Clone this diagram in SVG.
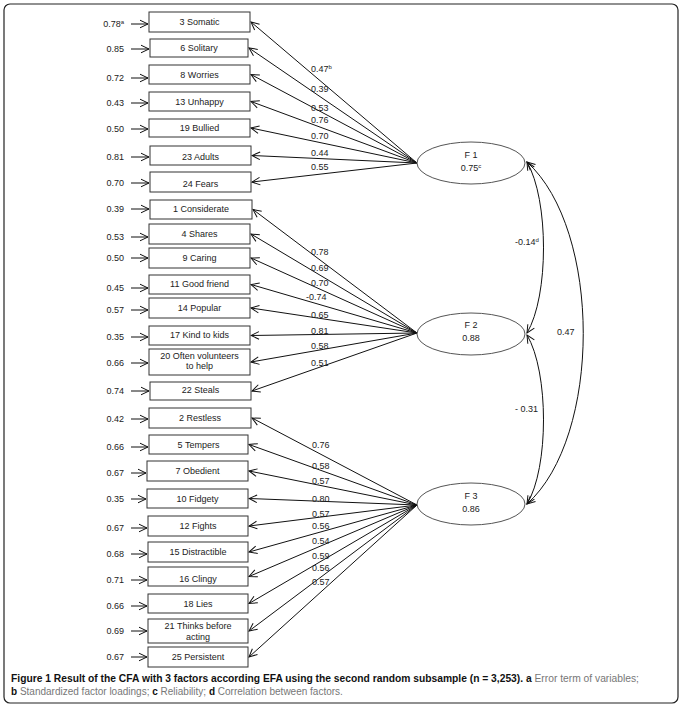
<svg xmlns="http://www.w3.org/2000/svg" width="684" height="709" viewBox="0 0 684 709">
<style>
text{font-family:"Liberation Sans",Arial,sans-serif;font-size:9px;fill:#222}
.box{fill:#fff;stroke:#333;stroke-width:1}
.fac{fill:#fff;stroke:#555;stroke-width:1}
.bt{text-anchor:middle}
.el{text-anchor:end}
.ln{stroke:#111;stroke-width:1;fill:none}
.cap{font-size:10px}
.b{font-weight:bold;fill:#111}
.g{fill:#777}
</style>
<defs>
<marker id="ah" markerWidth="10" markerHeight="10" refX="9" refY="5" orient="auto-start-reverse" markerUnits="userSpaceOnUse">
<path d="M1,1.2 L9,5 L1,8.8" fill="none" stroke="#111" stroke-width="1"/>
</marker>
</defs>
<rect x="4" y="4" width="674" height="699" rx="6" fill="#fff" stroke="#222" stroke-width="1.2"/>

<g id="connectors">
<g id="loadings-f1" class="ln">
<line x1="417" y1="163" x2="251" y2="22" marker-end="url(#ah)"/>
<line x1="417" y1="163" x2="249" y2="48" marker-end="url(#ah)"/>
<line x1="417" y1="163" x2="251" y2="74.5" marker-end="url(#ah)"/>
<line x1="417" y1="163" x2="251" y2="101.5" marker-end="url(#ah)"/>
<line x1="417" y1="163" x2="251" y2="128" marker-end="url(#ah)"/>
<line x1="417" y1="163" x2="252" y2="155.5" marker-end="url(#ah)"/>
<line x1="417" y1="163" x2="252" y2="182" marker-end="url(#ah)"/>
</g>
<g id="loadings-f2" class="ln">
<line x1="417" y1="333" x2="253" y2="209.5" marker-end="url(#ah)"/>
<line x1="417" y1="333" x2="251" y2="234" marker-end="url(#ah)"/>
<line x1="417" y1="333" x2="251" y2="258" marker-end="url(#ah)"/>
<line x1="417" y1="333" x2="251" y2="284.5" marker-end="url(#ah)"/>
<line x1="417" y1="333" x2="251" y2="308" marker-end="url(#ah)"/>
<line x1="417" y1="333" x2="251" y2="335.5" marker-end="url(#ah)"/>
<line x1="417" y1="333" x2="251" y2="362" marker-end="url(#ah)"/>
<line x1="417" y1="333" x2="252" y2="391" marker-end="url(#ah)"/>
</g>
<g id="loadings-f3" class="ln">
<line x1="417" y1="505" x2="252" y2="418" marker-end="url(#ah)"/>
<line x1="417" y1="505" x2="249" y2="444.5" marker-end="url(#ah)"/>
<line x1="417" y1="505" x2="249" y2="471" marker-end="url(#ah)"/>
<line x1="417" y1="505" x2="249" y2="498.5" marker-end="url(#ah)"/>
<line x1="417" y1="505" x2="249" y2="526" marker-end="url(#ah)"/>
<line x1="417" y1="505" x2="249" y2="552" marker-end="url(#ah)"/>
<line x1="417" y1="505" x2="249" y2="576.5" marker-end="url(#ah)"/>
<line x1="417" y1="505" x2="249" y2="603.5" marker-end="url(#ah)"/>
<line x1="417" y1="505" x2="249" y2="631" marker-end="url(#ah)"/>
<line x1="417" y1="505" x2="249" y2="657" marker-end="url(#ah)"/>
</g>
<g id="errors" class="ln">
<line x1="131" y1="24" x2="148" y2="24" marker-end="url(#ah)"/>
<line x1="131" y1="49" x2="149" y2="49" marker-end="url(#ah)"/>
<line x1="131" y1="78" x2="148" y2="78" marker-end="url(#ah)"/>
<line x1="131" y1="103" x2="148" y2="103" marker-end="url(#ah)"/>
<line x1="131" y1="129" x2="148" y2="129" marker-end="url(#ah)"/>
<line x1="131" y1="157" x2="149" y2="157" marker-end="url(#ah)"/>
<line x1="131" y1="183" x2="149" y2="183" marker-end="url(#ah)"/>
<line x1="131" y1="209" x2="149" y2="209" marker-end="url(#ah)"/>
<line x1="131" y1="237" x2="148" y2="237" marker-end="url(#ah)"/>
<line x1="131" y1="258" x2="148" y2="258" marker-end="url(#ah)"/>
<line x1="131" y1="288" x2="148" y2="288" marker-end="url(#ah)"/>
<line x1="131" y1="310" x2="148" y2="310" marker-end="url(#ah)"/>
<line x1="131" y1="337" x2="148" y2="337" marker-end="url(#ah)"/>
<line x1="131" y1="363" x2="148" y2="363" marker-end="url(#ah)"/>
<line x1="131" y1="391" x2="149" y2="391" marker-end="url(#ah)"/>
<line x1="131" y1="419" x2="148" y2="419" marker-end="url(#ah)"/>
<line x1="131" y1="447" x2="148" y2="447" marker-end="url(#ah)"/>
<line x1="131" y1="473" x2="146" y2="473" marker-end="url(#ah)"/>
<line x1="131" y1="499" x2="146" y2="499" marker-end="url(#ah)"/>
<line x1="131" y1="528" x2="147" y2="528" marker-end="url(#ah)"/>
<line x1="131" y1="554" x2="147" y2="554" marker-end="url(#ah)"/>
<line x1="131" y1="580" x2="147" y2="580" marker-end="url(#ah)"/>
<line x1="131" y1="606" x2="147" y2="606" marker-end="url(#ah)"/>
<line x1="131" y1="631" x2="147" y2="631" marker-end="url(#ah)"/>
<line x1="131" y1="657" x2="147" y2="657" marker-end="url(#ah)"/>
</g>
<g id="correlations" class="ln">
<path d="M527,162 C549,200 549,296 527,333" marker-start="url(#ah)" marker-end="url(#ah)"/>
<path d="M527,335 C549,372 549,468 527,504" marker-start="url(#ah)" marker-end="url(#ah)"/>
<path d="M527,162 C602,230 602,437 527,504" marker-start="url(#ah)" marker-end="url(#ah)"/>
</g>
<g id="loading-labels">
<text x="311" y="72">0.47<tspan font-size="6" dy="-3">b</tspan></text>
<text x="311" y="92">0.39</text>
<text x="311" y="111">0.53</text>
<text x="311" y="123">0.76</text>
<text x="311" y="139">0.70</text>
<text x="311" y="156">0.44</text>
<text x="311" y="170">0.55</text>
<text x="311" y="255">0.78</text>
<text x="311" y="271">0.69</text>
<text x="311" y="286">0.70</text>
<text x="306" y="300">-0.74</text>
<text x="311" y="318">0.65</text>
<text x="311" y="334">0.81</text>
<text x="311" y="349">0.58</text>
<text x="311" y="366">0.51</text>
<text x="312" y="448">0.76</text>
<text x="312" y="469">0.58</text>
<text x="312" y="484">0.57</text>
<text x="312" y="502">0.80</text>
<text x="312" y="517">0.57</text>
<text x="312" y="529">0.56</text>
<text x="312" y="544">0.54</text>
<text x="312" y="559">0.59</text>
<text x="312" y="571">0.56</text>
<text x="312" y="585">0.57</text>
<text x="515" y="245">-0.14<tspan font-size="6" dy="-3">d</tspan></text>
<text x="557" y="335">0.47</text>
<text x="515" y="412">- 0.31</text>
</g>
</g>

<g id="F1"><ellipse class="fac" cx="471" cy="163" rx="54" ry="21"/><text class="bt" x="471" y="158">F 1</text><text class="bt" x="471" y="171">0.75<tspan font-size="6" dy="-3">c</tspan></text></g>
<g id="F2"><ellipse class="fac" cx="471" cy="334" rx="54" ry="21"/><text class="bt" x="471" y="328">F 2</text><text class="bt" x="471" y="341">0.88</text></g>
<g id="F3"><ellipse class="fac" cx="471" cy="504" rx="54" ry="21"/><text class="bt" x="471" y="499">F 3</text><text class="bt" x="471" y="512">0.86</text></g>

<g id="v3"><rect class="box" x="149" y="12" width="101" height="20"/><text class="bt" x="199.5" y="25">3 Somatic</text><text class="el" x="124" y="27">0.78<tspan font-size="6" dy="-3">a</tspan></text></g>
<g id="v6"><rect class="box" x="150" y="39" width="98" height="18"/><text class="bt" x="199" y="51">6 Solitary</text><text class="el" x="124" y="52">0.85</text></g>
<g id="v8"><rect class="box" x="149" y="65" width="101" height="19"/><text class="bt" x="199.5" y="78">8 Worries</text><text class="el" x="124" y="81">0.72</text></g>
<g id="v13"><rect class="box" x="149" y="92" width="101" height="19"/><text class="bt" x="199.5" y="105">13 Unhappy</text><text class="el" x="124" y="106">0.43</text></g>
<g id="v19"><rect class="box" x="149" y="119" width="101" height="18"/><text class="bt" x="199.5" y="131">19 Bullied</text><text class="el" x="124" y="132">0.50</text></g>
<g id="v23"><rect class="box" x="150" y="146" width="101" height="19"/><text class="bt" x="200.5" y="160">23 Adults</text><text class="el" x="124" y="160">0.81</text></g>
<g id="v24"><rect class="box" x="150" y="172" width="101" height="20"/><text class="bt" x="200.5" y="187">24 Fears</text><text class="el" x="124" y="186">0.70</text></g>

<g id="v1"><rect class="box" x="150" y="200" width="102" height="19"/><text class="bt" x="201" y="212">1 Considerate</text><text class="el" x="124" y="212">0.39</text></g>
<g id="v4"><rect class="box" x="149" y="224" width="101" height="20"/><text class="bt" x="199.5" y="237">4 Shares</text><text class="el" x="124" y="240">0.53</text></g>
<g id="v9"><rect class="box" x="149" y="248" width="101" height="20"/><text class="bt" x="199.5" y="261">9 Caring</text><text class="el" x="124" y="261">0.50</text></g>
<g id="v11"><rect class="box" x="149" y="275" width="101" height="19"/><text class="bt" x="199.5" y="287">11 Good friend</text><text class="el" x="124" y="291">0.45</text></g>
<g id="v14"><rect class="box" x="149" y="298" width="101" height="20"/><text class="bt" x="199.5" y="311">14 Popular</text><text class="el" x="124" y="313">0.57</text></g>
<g id="v17"><rect class="box" x="149" y="326" width="101" height="19"/><text class="bt" x="199.5" y="338">17 Kind to kids</text><text class="el" x="124" y="340">0.35</text></g>
<g id="v20"><rect class="box" x="149" y="349" width="101" height="26"/><text class="bt" x="199.5" y="359">20 Often volunteers</text><text class="bt" x="199.5" y="369">to help</text><text class="el" x="124" y="366">0.66</text></g>
<g id="v22"><rect class="box" x="150" y="382" width="101" height="18"/><text class="bt" x="200.5" y="393">22 Steals</text><text class="el" x="124" y="394">0.74</text></g>

<g id="v2"><rect class="box" x="149" y="408" width="102" height="20"/><text class="bt" x="200" y="421">2 Restless</text><text class="el" x="124" y="422">0.42</text></g>
<g id="v5"><rect class="box" x="149" y="435" width="99" height="19"/><text class="bt" x="198.5" y="448">5 Tempers</text><text class="el" x="124" y="450">0.66</text></g>
<g id="v7"><rect class="box" x="147" y="461" width="101" height="20"/><text class="bt" x="197.5" y="474">7 Obedient</text><text class="el" x="124" y="476">0.67</text></g>
<g id="v10"><rect class="box" x="147" y="489" width="101" height="19"/><text class="bt" x="197.5" y="502">10 Fidgety</text><text class="el" x="124" y="502">0.35</text></g>
<g id="v12"><rect class="box" x="148" y="516" width="100" height="20"/><text class="bt" x="198" y="529">12 Fights</text><text class="el" x="124" y="531">0.67</text></g>
<g id="v15"><rect class="box" x="148" y="542" width="100" height="20"/><text class="bt" x="198" y="555">15 Distractible</text><text class="el" x="124" y="557">0.68</text></g>
<g id="v16"><rect class="box" x="148" y="567" width="100" height="19"/><text class="bt" x="198" y="582">16 Clingy</text><text class="el" x="124" y="583">0.71</text></g>
<g id="v18"><rect class="box" x="148" y="594" width="100" height="19"/><text class="bt" x="198" y="607">18 Lies</text><text class="el" x="124" y="609">0.66</text></g>
<g id="v21"><rect class="box" x="148" y="619" width="100" height="24"/><text class="bt" x="198" y="629">21 Thinks before</text><text class="bt" x="198" y="640">acting</text><text class="el" x="124" y="634">0.69</text></g>
<g id="v25"><rect class="box" x="148" y="647" width="100" height="20"/><text class="bt" x="198" y="660">25 Persistent</text><text class="el" x="124" y="660">0.67</text></g>

<g id="caption">
<text class="cap" x="11" y="682" textLength="628" lengthAdjust="spacingAndGlyphs"><tspan class="b">Figure 1 Result of the CFA with 3 factors according EFA using the second random subsample (n = 3,253).</tspan><tspan class="b"> a</tspan><tspan class="g"> Error term of variables;</tspan></text>
<text class="cap" x="11" y="695"><tspan class="b">b</tspan><tspan class="g"> Standardized factor loadings; </tspan><tspan class="b">c</tspan><tspan class="g"> Reliability; </tspan><tspan class="b">d</tspan><tspan class="g"> Correlation between factors.</tspan></text>
</g>
</svg>
